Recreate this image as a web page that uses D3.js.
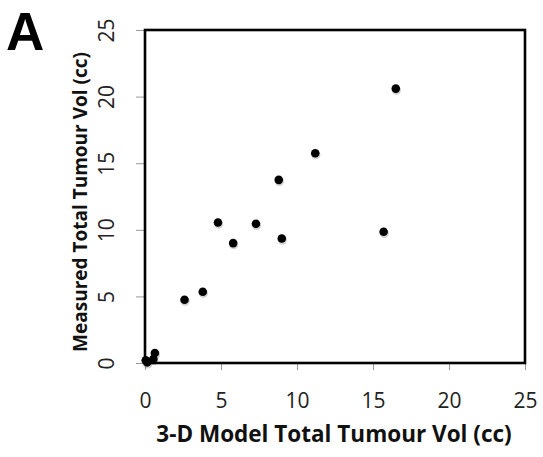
<!DOCTYPE html>
<html><head><meta charset="utf-8">
<script src="https://cdn.jsdelivr.net/npm/d3@7"></script>
<style>html,body{margin:0;padding:0;background:#fff;}svg{display:block;}</style>
</head><body>
<svg id="c" width="543" height="457"></svg>
<script>
// Data
const modelVol    = [16.5, 11.2, 8.8, 4.8, 7.3, 5.8, 9.0, 15.7, 3.8, 2.6, 0.65, 0.55, 0.15, 0.05];
const measuredVol = [20.6, 15.75, 13.75, 10.55, 10.45, 9.0, 9.35, 9.85, 5.35, 4.75, 0.75, 0.3, 0.05, 0.2];
const xTicks = [0, 5, 10, 15, 20, 25];
const yTicks = [0, 5, 10, 15, 20, 25];
const xTitle = "3-D Model Total Tumour Vol (cc)";
const yTitle = "Measured Total Tumour Vol  (cc)";
const panelLabel = "A";

const svg = d3.select("#c");
const L = 145, R = 525, T = 30, B = 363;
const x = d3.scaleLinear().domain([0, 25]).range([L, R]);
const y = d3.scaleLinear().domain([0, 25]).range([B, T]);

// ticks
const xAxis = d3.axisBottom(x).tickValues(xTicks).tickSize(7).tickPadding(23);
const gx = svg.append("g").attr("transform", `translate(0,${B})`).call(xAxis);
gx.select(".domain").remove();
gx.selectAll("line").attr("stroke", "#999").attr("stroke-width", 1);
gx.selectAll("text").attr("font-family", "'Open Sans', sans-serif").attr("font-size", 21).attr("fill", "#222");

const yAxis = d3.axisLeft(y).tickValues(yTicks).tickSize(9).tickPadding(0);
const gy = svg.append("g").attr("transform", `translate(${L},0)`).call(yAxis);
gy.select(".domain").remove();
gy.selectAll("line").attr("stroke", "#999").attr("stroke-width", 1);
gy.selectAll("text")
  .attr("font-family", "'Open Sans', sans-serif").attr("font-size", 21).attr("fill", "#222")
  .attr("x", null).attr("dy", null)
  .attr("text-anchor", "middle")
  .attr("transform", d => `translate(${-39},0) rotate(-90) translate(0,7.5)`);

// frame
svg.append("rect").attr("x", L).attr("y", T).attr("width", R - L).attr("height", B - T)
  .attr("fill", "none").attr("stroke", "#000").attr("stroke-width", 2.6);

// points
const pts = modelVol.map((v, i) => [v, measuredVol[i]]);
svg.append("g").selectAll("circle.sh").data(pts).join("circle")
  .attr("cx", d => x(d[0]) + 0.6).attr("cy", d => y(d[1]) + 1.6).attr("r", 4.6)
  .attr("fill", "#000").attr("opacity", 0.18);
svg.append("g").selectAll("circle.pt").data(pts).join("circle")
  .attr("cx", d => x(d[0])).attr("cy", d => y(d[1])).attr("r", 4.3)
  .attr("fill", "#000");

// titles
svg.append("text").attr("x", (L + R) / 2 - 1).attr("y", 442).attr("text-anchor", "middle")
  .attr("font-family", "'Open Sans', sans-serif").attr("font-weight", "bold").attr("font-size", 22.5)
  .attr("fill", "#111").text(xTitle);
svg.append("text").attr("transform", `translate(86.5,202) rotate(-90)`).attr("text-anchor", "middle")
  .attr("font-family", "'Open Sans', sans-serif").attr("font-weight", "bold").attr("font-size", 19)
  .attr("fill", "#111").text(yTitle);
svg.append("text").attr("x", 6).attr("y", 50)
  .attr("font-family", "'Liberation Sans', Arial, sans-serif").attr("font-weight", "bold").attr("font-size", 53)
  .attr("fill", "#000").text(panelLabel);
</script>
</body></html>
